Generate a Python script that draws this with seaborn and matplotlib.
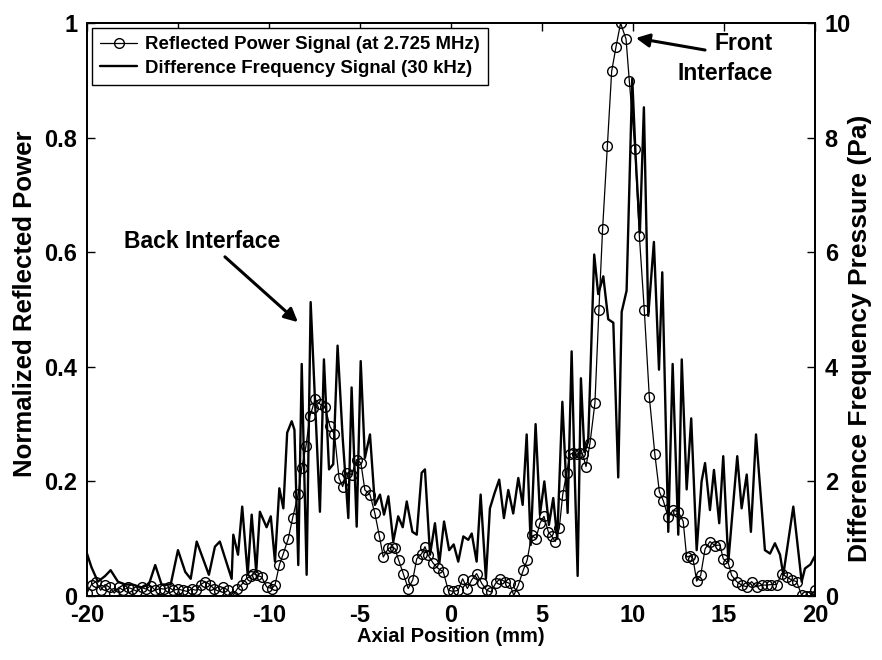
import numpy as np
import pandas as pd
import matplotlib
matplotlib.use("Agg")
import matplotlib.pyplot as plt
import seaborn as sns

# Reflected power signal (normalized)
refl_x = [-20.0, -19.75, -19.5, -19.25, -19.0, -18.75, -18.5, -18.25, -18.0, -17.75,
          -17.5, -17.25, -17.0, -16.75, -16.5, -16.25, -16.0, -15.75, -15.5, -15.25,
          -15.0, -14.75, -14.5, -14.25, -14.0, -13.75, -13.5, -13.25, -13.0, -12.75,
          -12.5, -12.25, -12.0, -11.75, -11.5, -11.25, -11.0,
          -10.86, -10.63, -10.4, -10.13, -9.85, -9.67, -9.43, -9.21, -8.94, -8.7,
          -8.39, -8.2, -7.97, -7.75, -7.6, -7.47, -7.2, -6.92, -6.65, -6.4,
          -6.15, -5.95, -5.73, -5.46, -5.18, -4.95, -4.73, -4.45, -4.18, -3.93,
          -3.72, -3.44, -3.25, -3.08, -2.88, -2.62, -2.35, -2.1, -1.88, -1.61,
          -1.43, -1.25, -0.97, -0.7, -0.42, -0.15, 0.13, 0.4, 0.64, 0.9,
          1.14, 1.41, 1.69, 1.96, 2.2, 2.45, 2.69, 2.97, 3.22, 3.45,
          3.7, 3.97, 4.19, 4.43, 4.67, 4.89, 5.11, 5.35, 5.55, 5.72,
          5.95, 6.14, 6.36, 6.54, 6.72, 6.9, 7.07, 7.24, 7.42, 7.64,
          7.91, 8.13, 8.33, 8.59, 8.83, 9.07, 9.32, 9.62, 9.8, 10.11,
          10.35, 10.62, 10.9, 11.2, 11.45, 11.67, 11.94, 12.2, 12.49, 12.76,
          12.95, 13.15, 13.3, 13.5, 13.72, 13.96, 14.23, 14.5, 14.78, 14.96,
          15.24, 15.42, 15.7, 15.97, 16.25, 16.52, 16.8, 17.07, 17.35, 17.6,
          17.9, 18.17, 18.45, 18.72, 18.99, 19.27, 19.5, 19.75, 20.0]
refl_y = [0.005, 0.02, 0.025, 0.01, 0.02, 0.015, 0.005, 0.015, 0.01, 0.015,
          0.012, 0.008, 0.015, 0.012, 0.018, 0.01, 0.013, 0.012, 0.015, 0.01,
          0.012, 0.01, 0.008, 0.012, 0.01, 0.02, 0.025, 0.02, 0.012, 0.008,
          0.015, 0.01, 0.0, 0.012, 0.02, 0.03, 0.035,
          0.039, 0.036, 0.033, 0.016, 0.013, 0.019, 0.054, 0.074, 0.10, 0.136,
          0.178, 0.223, 0.261, 0.314, 0.329, 0.343, 0.335, 0.33, 0.296, 0.282,
          0.206, 0.191, 0.215, 0.212, 0.238, 0.232, 0.185, 0.177, 0.144, 0.104,
          0.068, 0.083, 0.085, 0.083, 0.063, 0.039, 0.013, 0.028, 0.065, 0.074,
          0.086, 0.071, 0.057, 0.048, 0.042, 0.01, 0.008, 0.01, 0.03, 0.013,
          0.028, 0.039, 0.022, 0.01, 0.007, 0.022, 0.03, 0.025, 0.022, 0.001,
          0.019, 0.045, 0.063, 0.106, 0.1, 0.127, 0.139, 0.112, 0.104, 0.095,
          0.118, 0.177, 0.215, 0.247, 0.25, 0.247, 0.25, 0.247, 0.226, 0.267,
          0.337, 0.50, 0.64, 0.785, 0.916, 0.959, 1.0, 0.972, 0.899, 0.78,
          0.629, 0.50, 0.347, 0.248, 0.182, 0.166, 0.137, 0.15, 0.147, 0.13,
          0.068, 0.07, 0.065, 0.026, 0.036, 0.082, 0.095, 0.088, 0.089, 0.065,
          0.057, 0.036, 0.025, 0.019, 0.016, 0.025, 0.016, 0.019, 0.019, 0.02,
          0.02, 0.039, 0.033, 0.028, 0.025, 0.001, 0.0, 0.0, 0.01]

# Difference frequency signal (Pa)
diff_x = [-20.0, -19.75, -19.4, -19.0, -18.7, -18.3, -17.9, -17.5, -17.0, -16.6,
          -16.25, -15.9, -15.4, -15.0, -14.6, -14.3, -13.97, -13.3, -12.97, -12.7,
          -12.05, -11.96, -11.7, -11.47, -11.17, -10.95, -10.7, -10.5, -10.13, -9.9,
          -9.67, -9.43, -9.21, -9.0, -8.75, -8.6, -8.39, -8.2, -7.93, -7.71,
          -7.47, -7.2, -6.98, -6.7, -6.47, -6.23, -5.95, -5.64, -5.46, -5.18,
          -4.96, -4.73, -4.45, -4.18, -3.9, -3.68, -3.44, -3.17, -2.9, -2.65,
          -2.43, -2.12, -1.88, -1.61, -1.43, -1.15, -0.88, -0.64, -0.38, -0.1,
          0.15, 0.4, 0.68, 0.95, 1.14, 1.41, 1.63, 1.92, 2.14, 2.4,
          2.65, 2.91, 3.15, 3.42, 3.7, 3.94, 4.16, 4.38, 4.65, 4.89,
          5.13, 5.38, 5.62, 5.84, 6.12, 6.41, 6.63, 6.78, 6.96, 7.14,
          7.33, 7.54, 7.87, 8.09, 8.37, 8.64, 8.92, 9.19, 9.38, 9.65,
          9.96, 10.15, 10.38, 10.6, 10.84, 11.15, 11.43, 11.61, 11.94, 12.18,
          12.49, 12.68, 12.95, 13.2, 13.5, 13.77, 13.96, 14.23, 14.45, 14.74,
          14.96, 15.24, 15.73, 15.97, 16.25, 16.48, 16.76, 17.25, 17.53, 17.8,
          18.08, 18.26, 18.81, 19.27, 19.45, 19.75, 20.0]
diff_y = [0.74, 0.5, 0.25, 0.35, 0.45, 0.25, 0.2, 0.2, 0.15, 0.2,
          0.54, 0.2, 0.2, 0.8, 0.42, 0.3, 0.95, 0.37, 0.86, 0.95,
          0.3, 1.07, 0.72, 1.56, 0.37, 1.42, 0.42, 1.47, 1.2, 1.39,
          0.6, 1.88, 1.53, 2.85, 3.05, 2.9, 0.54, 4.05, 0.37, 5.13,
          3.4, 1.47, 4.13, 2.21, 2.3, 4.37, 2.76, 1.36, 3.64, 1.21,
          4.1, 2.41, 2.82, 1.59, 1.77, 1.42, 1.74, 0.95, 1.39, 1.2,
          1.65, 1.12, 1.07, 2.15, 2.21, 0.72, 1.27, 0.57, 1.3, 0.8,
          0.9, 0.6, 1.04, 0.98, 1.09, 0.6, 1.77, 0.3, 1.53, 1.8,
          2.03, 1.36, 1.85, 1.44, 2.06, 1.59, 2.82, 0.89, 3.0, 1.42,
          2.0, 1.24, 1.71, 1.0, 3.39, 1.45, 4.27, 2.33, 0.35, 3.8,
          2.51, 2.7, 5.96, 5.27, 5.58, 4.83, 4.77, 2.07, 4.96, 5.33,
          9.03, 7.65, 6.34, 8.53, 4.89, 6.18, 3.95, 5.65, 1.12, 4.05,
          1.07, 4.13, 1.86, 3.1, 0.8, 2.0, 2.32, 1.5, 2.2, 1.27,
          2.44, 0.6, 2.44, 1.53, 2.12, 1.12, 2.82, 0.8, 0.74, 0.92,
          0.72, 0.37, 1.56, 0.25, 0.48, 0.55, 0.7]

left_ticks = [0, 0.2, 0.4, 0.6, 0.8, 1]
left_labels = ["0", "0.2", "0.4", "0.6", "0.8", "1"]
right_ticks = [0, 2, 4, 6, 8, 10]
right_labels = ["0", "2", "4", "6", "8", "10"]
x_ticks = [-20, -15, -10, -5, 0, 5, 10, 15, 20]

sns.set_theme(style="white")
plt.rcParams["font.family"] = ["Liberation Sans", "DejaVu Sans"]
plt.rcParams.update({"text.color": "black", "axes.labelcolor": "black",
                     "xtick.color": "black", "ytick.color": "black",
                     "font.weight": "bold", "axes.labelweight": "bold"})

df_r = pd.DataFrame({"x": refl_x, "y": refl_y})
df_d = pd.DataFrame({"x": diff_x, "y": diff_y})

fig = plt.figure(figsize=(8.82, 6.60), dpi=100)
ax = fig.add_axes([0.0986, 0.097, 0.8254, 0.868])
ax2 = ax.twinx()

sns.lineplot(data=df_r, x="x", y="y", ax=ax, sort=False, estimator=None,
             color="black", lw=0.9, marker="o", markersize=7,
             markerfacecolor="none", markeredgecolor="black", markeredgewidth=1.0,
             label="Reflected Power Signal (at 2.725 MHz)", legend=False)
sns.lineplot(data=df_d, x="x", y="y", ax=ax2, sort=False, estimator=None,
             color="black", lw=1.7, label="Difference Frequency Signal (30 kHz)",
             legend=False)

ax.set_xlim(-20, 20)
ax.set_ylim(0, 1)
ax2.set_ylim(0, 10)
ax.set_xticks(x_ticks)
ax.set_xticklabels([str(t) for t in x_ticks])
ax.set_yticks(left_ticks)
ax.set_yticklabels(left_labels)
ax2.set_yticks(right_ticks)
ax2.set_yticklabels(right_labels)

for a in (ax, ax2):
    for s in a.spines.values():
        s.set_color("black")
        s.set_linewidth(1.3)
ax.tick_params(axis="both", direction="in", length=6, width=1.0, labelsize=17,
               top=True, labelcolor="black", color="black", pad=6)
ax.tick_params(axis="y", left=True, right=False, pad=7)
ax2.tick_params(axis="y", direction="in", length=6, width=1.0, labelsize=17,
                right=True, left=False, color="black", pad=7)
for lab in ax.get_xticklabels() + ax.get_yticklabels() + ax2.get_yticklabels():
    lab.set_fontweight("bold")

ax.set_xlabel("Axial Position (mm)", fontsize=14.5, fontweight="bold", labelpad=0)
ax.set_ylabel("Normalized Reflected Power", fontsize=18.5, fontweight="bold")
ax.yaxis.set_label_coords(-0.068, 0.51)
ax2.set_ylabel("Difference Frequency Pressure (Pa)", fontsize=19, fontweight="bold")
ax2.yaxis.set_label_coords(1.045, 0.45)

h1, l1 = ax.get_legend_handles_labels()
h2, l2 = ax2.get_legend_handles_labels()
leg = ax2.legend(h1 + h2, l1 + l2, loc="upper left",
                 prop={"size": 13.4, "weight": "bold"},
                 frameon=True, fancybox=False, edgecolor="black",
                 borderaxespad=0.25, handlelength=2.0, handletextpad=0.4,
                 borderpad=0.45, labelspacing=0.35)
leg.get_frame().set_linewidth(1.0)
leg.get_frame().set_alpha(1)

arrow = dict(arrowstyle="-|>", color="black", lw=2.2, mutation_scale=20,
             shrinkA=0, shrinkB=0)
ax.text(-13.7, 0.618, "Back Interface", fontsize=16.5, fontweight="bold",
        ha="center", va="center")
ax.annotate("", xy=(-8.41, 0.478), xytext=(-12.42, 0.592), arrowprops=arrow)
ax.text(15.05, 0.938, "Front\nInterface", fontsize=16.5, fontweight="bold",
        ha="center", va="center", multialignment="right", linespacing=1.4)
ax.annotate("", xy=(10.16, 0.974), xytext=(13.96, 0.953), arrowprops=arrow)

fig.savefig("out.png", dpi=100)
